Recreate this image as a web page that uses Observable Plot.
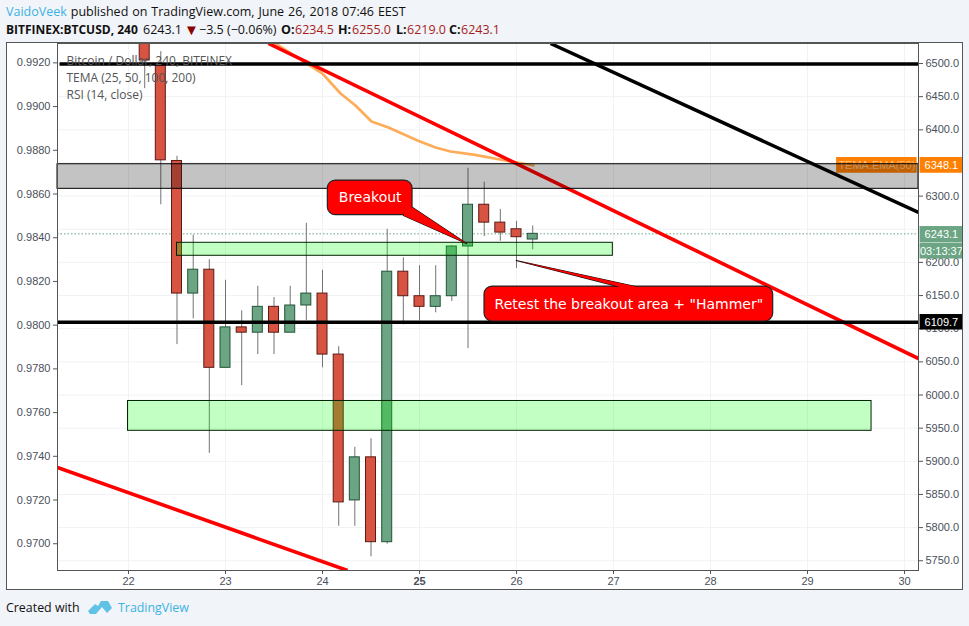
<!DOCTYPE html>
<html>
<head>
<meta charset="utf-8">
<script src="https://cdn.jsdelivr.net/npm/d3@7"></script>
<script src="https://cdn.jsdelivr.net/npm/@observablehq/plot@0.6"></script>
<style>
html,body{margin:0;padding:0;background:#f1f4f8;width:969px;height:626px;overflow:hidden;font-family:"Open Sans",sans-serif;color:#111}
#l1{position:absolute;left:6px;top:3px;font-size:12.5px;word-spacing:0.7px;line-height:17px;white-space:nowrap}
#l2{position:absolute;left:0;top:21px;font-size:12.5px;line-height:17px;white-space:nowrap}
#l2 span{position:absolute;top:0}
#l1 .u,#foot .u{color:#3bb3e4}
#l2 .b{font-weight:700}
#l2 .r{color:#a81c1c}
#l2 .t{color:#8b0000;font-size:15px}
#chart{position:absolute;left:7px;top:43px;width:955px;height:546px;outline:1px solid #555}
#chart svg{display:block}
#foot{position:absolute;left:6px;top:599px;font-size:12.4px;line-height:18px;white-space:nowrap}
#foot svg{position:absolute;left:81px;top:0}
#foot .u{position:absolute;left:112px;top:0}
</style>
</head>
<body>
<div id="l1"><span class="u">VaidoVeek</span> published on TradingView.com, June 26, 2018 07:46 EEST</div>
<div id="l2">
<span class="b" style="left:6px;font-size:12px">BITFINEX:BTCUSD, 240</span>
<span style="left:143px">6243.1</span>
<span class="t" style="left:184px">▼</span>
<span style="left:199px">−3.5 (−0.06%)</span>
<span class="b" style="left:281px">O:</span><span class="r" style="left:295px">6234.5</span>
<span class="b" style="left:338px">H:</span><span class="r" style="left:352px">6255.0</span>
<span class="b" style="left:396px">L:</span><span class="r" style="left:407px">6219.0</span>
<span class="b" style="left:449px">C:</span><span class="r" style="left:461px">6243.1</span>
</div>
<div id="chart"></div>
<div id="foot">Created with
<svg width="26" height="18" viewBox="0 0 26 18"><path fill="#5fc3e8" d="M1 12 L8 5 L11 7 L14 2 L21 2 L25 9 L20 14 L15 8 L9 15 L3 15 Z"/></svg>
<span class="u">TradingView</span></div>
<script>
// Time axis (day of June 2018) and price axes
const dayTicks = [22, 23, 24, 26, 27, 28, 29, 30];
const boldDay = [25];
const priceTicks = [5750,5800,5850,5900,5950,6000,6050,6100,6150,6200,6250,6300,6350,6400,6450,6500];
const hiddenPriceLabels = [6250, 6350]; // covered by price boxes in the reference
const ratioTicks = [0.97,0.972,0.974,0.976,0.978,0.98,0.982,0.984,0.986,0.988,0.99,0.992];
const dayDomain = [21.268, 30.144];
const priceDomain = [5735.3, 6530.2];
const priceAt992 = 6501, dollarsPerRatio = 32970;

// Four-hour candles
const candleDay  = [22.167,22.333,22.5,22.667,22.833,23,23.167,23.333,23.5,23.667,23.833,24,24.167,24.333,24.5,24.667,24.833,25,25.167,25.333,25.5,25.667,25.833,26,26.167];
const candleOpen = [6570,6497,6353,6153,6189,6041,6102,6094,6133,6094,6135,6153,6061,5841,5906,5778,6186,6149,6133,6149,6224,6287,6260,6250,6234.5];
const candleClose= [6504.5,6354,6153,6189,6041,6102,6094,6133,6094,6135,6153,6061,5838,5906,5778,6186,6149,6133,6149,6224,6287,6260,6245,6238,6243.1];
const candleHigh = [6600,6518,6360,6241,6204,6173,6127,6164,6147,6164,6259,6188,6073,5921,5934,6250,6207,6195,6195,6225,6342,6321,6280,6262,6255];
const candleLow  = [6462,6287,6076,6115,5912,6041,6014,6061,6061,6094,6112,6041,5802,5802,5756,5775,6106,6112,6124,6141,6070,6239,6232,6191,6219];
const candles = candleDay.map((day,i)=>({day,open:candleOpen[i],close:candleClose[i],high:candleHigh[i],low:candleLow[i]}));
const candleHalf = 0.0515;

// TEMA EMA(50)
const temaDay   = [23.515,24,24.186,24.34,24.505,24.68,24.979,25.165,25.32,25.557,25.887,26.175];
const temaPrice = [6530.2,6484.9,6454.8,6436.7,6412.5,6403.5,6383.9,6373.3,6367.3,6362.7,6353.7,6346.2];
const tema = temaDay.map((x,i)=>({x,y:temaPrice[i]}));

// Drawn lines
const redLines = [
  {x1:23.443,y1:6530.2,x2:30.144,y2:6055},
  {x1:21.268,y1:5890.6,x2:24.258,y2:5735.3}
];
const blackLines = [
  {x1:26.351,y1:6530.2,x2:30.144,y2:6275.3},
  {x1:21.289,y1:6499.3,x2:30.144,y2:6499.3},
  {x1:21.268,y1:6109.7,x2:30.144,y2:6109.7}
];
const grayBand = [{x1:21.268,x2:30.144,y1:6311,y2:6348.1}];
const greenBands = [
  {x1:22.5,x2:26.993,y1:6210,y2:6229.6},
  {x1:21.995,x2:29.66,y1:5946,y2:5991}
];

// Callouts
const callouts = [
  {x1:24.055,x2:24.928,y1:6271.2,y2:6323.5,label:"Breakout"},
  {x1:25.67,x2:28.646,y1:6110.9,y2:6163.6,label:"Retest the breakout area + \"Hammer\""}
];
const tailBreakout = [{x:24.928,y:6282.8},{x:25.485,y:6228.5},{x:24.835,y:6270.7},{x:24.835,y:6285.8}];
const tailRetest = [{x:25.997,y:6202.9},{x:27.227,y:6163.6},{x:27.227,y:6157.6},{x:27.052,y:6157.6},{x:27.052,y:6163.6}];

// Price labels on the right
const AX0 = 30.16, AX1 = 30.6;
const priceBoxes = [
  {y1:6334.5,y2:6358.2,fill:"#ff7f00",label:"6348.1",color:"#fff"},
  {y1:6229.3,y2:6254.1,fill:"#6ba583",label:"6243.1",color:"#fff"},
  {y1:6205.1,y2:6228.5,fill:"#6ba583",label:"03:13:37",color:"#fff"},
  {y1:6098,y2:6121.4,fill:"#000",label:"6109.7",color:"#fff"}
];
const temaTag = [{x1:29.3,x2:30.13,y1:6334.5,y2:6358.2,label:"TEMA.EMA(50)"}];
const legendText = "Bitcoin / Dollar, 240, BITFINEX\nTEMA (25, 50, 100, 200)\nRSI (14, close)";
const lastPrice = [6243.1];

const inkAxis = "#4a4f5a", grid = "#f0f2f4";
const ui = "Liberation Sans", callFont = "DejaVu Sans", legFont = "Open Sans";
const ratioToPrice = r => priceAt992 + (r - 0.992) * dollarsPerRatio;
const priceToRatio = p => 0.992 + (p - priceAt992) / dollarsPerRatio;

const calloutRect = (extra) => Plot.rect(callouts, {x1:"x1",x2:"x2",y1:"y1",y2:"y2",rx:8,ry:8,fill:"#ff0000",...extra});
const tail = (data, extra) => Plot.line(data, {x:"x",y:"y",fill:"#ff0000",curve:"linear-closed",...extra});

const chart = Plot.plot({
  width:955, height:546,
  marginLeft:50, marginRight:44, marginTop:0, marginBottom:19,
  style:{background:"#fff",fontFamily:ui,overflow:"visible"},
  x:{domain:dayDomain,label:null},
  y:{domain:priceDomain,label:null},
  marks:[
    Plot.ruleX([...dayTicks,...boldDay],{x:d=>d,stroke:grid,strokeWidth:1}),
    Plot.ruleY(priceTicks,{y:d=>d,stroke:grid,strokeWidth:1}),
    Plot.axisX({ticks:dayTicks,tickFormat:d=>String(d),tickSize:4,tickPadding:3,fontSize:11,fill:inkAxis,stroke:"#555",label:null}),
    Plot.axisX({ticks:boldDay,tickFormat:d=>String(d),tickSize:4,tickPadding:3,fontSize:11,fontWeight:"bold",fill:inkAxis,stroke:"#555",label:null}),
    Plot.axisY({anchor:"left",ticks:ratioTicks.map(ratioToPrice),tickFormat:p=>priceToRatio(p).toFixed(4),tickSize:4,tickPadding:3,fontSize:11,fill:inkAxis,stroke:"#555",label:null}),
    Plot.axisY({anchor:"right",ticks:priceTicks.filter(p=>!hiddenPriceLabels.includes(p)),tickFormat:d3.format(".1f"),tickSize:4,tickPadding:3,fontSize:11,fill:inkAxis,stroke:"#555",label:null}),
    // label behind the gray zone
    Plot.rect(temaTag,{x1:"x1",x2:"x2",y1:"y1",y2:"y2",fill:"#ff7f00"}),
    Plot.text(temaTag,{x:d=>(d.x1+d.x2)/2,y:d=>(d.y1+d.y2)/2,text:"label",fill:"#fff",fillOpacity:0.55,fontSize:11,fontFamily:ui}),
    // dotted last price
    Plot.ruleY(lastPrice,{y:d=>d,stroke:"#6ba583",strokeDasharray:"1.5 2",strokeWidth:1}),
    // candles
    Plot.ruleX(candles,{x:"day",y1:"low",y2:"high",stroke:"#737375",strokeWidth:1,clip:true}),
    Plot.rect(candles,{x1:d=>d.day-candleHalf,x2:d=>d.day+candleHalf,y1:"open",y2:"close",
      fill:d=>d.close>=d.open?"#6ba583":"#d75442",
      stroke:d=>d.close>=d.open?"#225437":"#5b1a13",strokeWidth:1,clip:true}),
    // TEMA
    Plot.line(tema,{x:"x",y:"y",stroke:"#ff7f00",strokeOpacity:0.65,strokeWidth:2.7,clip:true}),
    // drawn lines
    Plot.link(redLines,{x1:"x1",y1:"y1",x2:"x2",y2:"y2",stroke:"#ff0000",strokeWidth:3.6,clip:true}),
    Plot.link(blackLines,{x1:"x1",y1:"y1",x2:"x2",y2:"y2",stroke:"#000",strokeWidth:3.5,clip:true}),
    // zones
    Plot.rect(grayBand,{x1:"x1",x2:"x2",y1:"y1",y2:"y2",fill:"#000",fillOpacity:0.235,stroke:"#000",strokeWidth:1}),
    Plot.rect(greenBands,{x1:"x1",x2:"x2",y1:"y1",y2:"y2",fill:"#00ff00",fillOpacity:0.24,stroke:"#002200",strokeWidth:1}),
    // right-hand labels
    Plot.rect(priceBoxes,{x1:AX0,x2:AX1,y1:"y1",y2:"y2",fill:"fill"}),
    Plot.text(priceBoxes,{x:(AX0+AX1)/2,y:d=>(d.y1+d.y2)/2,text:"label",fill:"color",fontSize:11,fontFamily:ui}),
    // callouts
    calloutRect({stroke:"#222",strokeWidth:1.2}),
    tail(tailBreakout,{stroke:"#111",strokeWidth:1.2}),
    tail(tailRetest,{stroke:"#111",strokeWidth:1.2}),
    tail(tailBreakout,{stroke:"none"}),
    tail(tailRetest,{stroke:"none"}),
    calloutRect({insetTop:1,insetBottom:1,insetLeft:1,insetRight:1}),
    Plot.text(callouts,{x:d=>(d.x1+d.x2)/2,y:d=>(d.y1+d.y2)/2,text:"label",fill:"#fff",fontSize:14,fontFamily:callFont}),
    // chart legend
    Plot.text([legendText],{text:d=>d,frameAnchor:"top-left",dx:9,dy:9,textAnchor:"start",lineAnchor:"top",lineHeight:1.42,fontSize:12,fill:"#555",fontFamily:legFont}),
    Plot.frame({stroke:"#555",strokeWidth:1})
  ]
});
document.getElementById("chart").appendChild(chart);
</script>
</body>
</html>
